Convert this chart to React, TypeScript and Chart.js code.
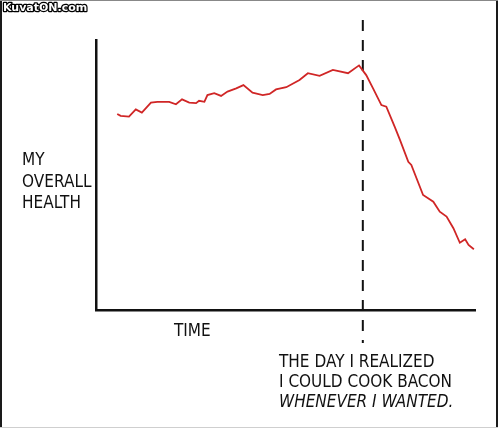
import React, { useEffect, useRef } from "react";
import { Chart, registerables } from "chart.js";

Chart.register(...registerables);

// Time (0-100) and overall health (0-100)
const timeValues = [
  5.6, 6.5, 8.7, 10.5, 12.1, 14.5, 16.2, 19.3, 21.1, 22.7, 24.6, 26.4, 27.2, 28.6,
  29.4, 31.2, 33.0, 34.7, 37.0, 38.9, 41.3, 44.0, 45.8, 47.5, 50.2, 53.7, 55.9,
  59.0, 62.5, 66.5, 69.4, 71.3, 73.1, 75.3, 76.6, 78.8, 80.2, 82.4, 83.2, 86.3,
  89.0, 90.7, 92.5, 94.3, 96.0, 97.4, 98.3, 99.7,
];
const healthValues = [
  72.6, 71.9, 71.6, 74.3, 73.1, 76.8, 77.1, 77.1, 76.2, 78.0, 76.8, 76.6, 77.5, 77.1,
  79.6, 80.3, 79.3, 80.9, 82.1, 83.3, 80.5, 79.6, 80.0, 81.7, 82.5, 85.2, 87.7,
  86.7, 88.9, 87.7, 90.6, 87.0, 82.1, 75.9, 75.3, 67.9, 63.0, 54.9, 53.7, 42.6,
  40.1, 36.4, 34.6, 30.3, 24.9, 26.2, 24.1, 22.5,
];
// The day bacon was discovered, and the vertical extent of its marker line
const baconDay = 70.4;
const markerRange = [107.4, -12.2];

const yLabelLines = ["MY", "OVERALL", "HEALTH"];
const xLabel = "TIME";
const captionLines = ["THE DAY I REALIZED", "I COULD COOK BACON", "WHENEVER I WANTED."];
const watermark = "KuvatON.com";

function drawNarrow(ctx: CanvasRenderingContext2D, text: string, x: number, y: number, font: string) {
  ctx.save();
  ctx.font = font;
  ctx.translate(x, y);
  ctx.scale(0.9, 1);
  ctx.fillText(text, 0, 0);
  ctx.restore();
}

const decorPlugin = {
  id: "xkcdDecor",
  beforeDraw(chart: any) {
    const ctx = chart.ctx;
    ctx.save();
    ctx.fillStyle = "#ffffff";
    ctx.fillRect(0, 0, chart.width, chart.height);
    ctx.restore();
  },
  afterDraw(chart: any) {
    const ctx = chart.ctx;
    ctx.save();
    ctx.fillStyle = "#111111";
    ctx.textBaseline = "alphabetic";
    const font = '17px "DejaVu Sans"';
    const yBase = [165, 187, 208];
    yLabelLines.forEach((t, i) => drawNarrow(ctx, t, 22, yBase[i], font));
    drawNarrow(ctx, xLabel, 174, 336, font);
    const cBase = [367, 387, 407];
    captionLines.forEach((t, i) => {
      drawNarrow(ctx, t, 279, cBase[i], (i === 2 ? "italic " : "") + font);
    });

    // watermark
    ctx.font = 'bold 11px "DejaVu Sans"';
    ctx.lineWidth = 2.5;
    ctx.strokeStyle = "#000000";
    ctx.lineJoin = "round";
    ctx.strokeText(watermark, 3, 11);
    ctx.fillStyle = "#ffffff";
    ctx.fillText(watermark, 3, 11);

    // panel frame
    ctx.fillStyle = "#1a1a1a";
    ctx.fillRect(0, 0, 2, 428);
    ctx.fillRect(496, 0, 2, 428);
    ctx.fillStyle = "#888888";
    ctx.fillRect(0, 0, 498, 1);
    ctx.fillStyle = "#cfcfcf";
    ctx.fillRect(0, 427, 498, 1);
    ctx.restore();
  },
};

export default function App() {
  const ref = useRef<HTMLCanvasElement | null>(null);
  useEffect(() => {
    document.body.style.margin = "0";
    if (!ref.current) return;
    const chart = new Chart(ref.current, {
      type: "scatter",
      data: {
        datasets: [
          {
            label: "Health",
            data: timeValues.map((t, i) => ({ x: t, y: healthValues[i] })),
            showLine: true,
            borderColor: "rgb(208, 38, 38)",
            borderWidth: 1.8,
            pointRadius: 0,
            tension: 0,
          },
          {
            label: "Bacon",
            data: markerRange.map((h) => ({ x: baconDay, y: h })),
            showLine: true,
            borderColor: "#111111",
            borderWidth: 2,
            borderDash: [11, 9],
            pointRadius: 0,
            clip: false,
          } as any,
        ],
      },
      options: {
        animation: false,
        responsive: false,
        devicePixelRatio: 1,
        layout: { padding: { left: 96, right: 25, top: 40, bottom: 123 } },
        plugins: { legend: { display: false }, tooltip: { enabled: false } },
        scales: {
          x: {
            type: "linear",
            min: 0,
            max: 100,
            ticks: { display: false },
            grid: { display: false, drawTicks: false },
            border: { display: true, color: "#111111", width: 2.5 },
          },
          y: {
            type: "linear",
            min: 0,
            max: 100,
            ticks: { display: false },
            grid: { display: false, drawTicks: false },
            border: { display: true, color: "#111111", width: 2.5 },
          },
        },
      },
      plugins: [decorPlugin],
    });
    return () => chart.destroy();
  }, []);
  return (
    <div style={{ position: "absolute", left: 0, top: 0, width: 500, height: 433 }}>
      <canvas ref={ref} width={500} height={433} style={{ width: 500, height: 433 }} />
    </div>
  );
}
